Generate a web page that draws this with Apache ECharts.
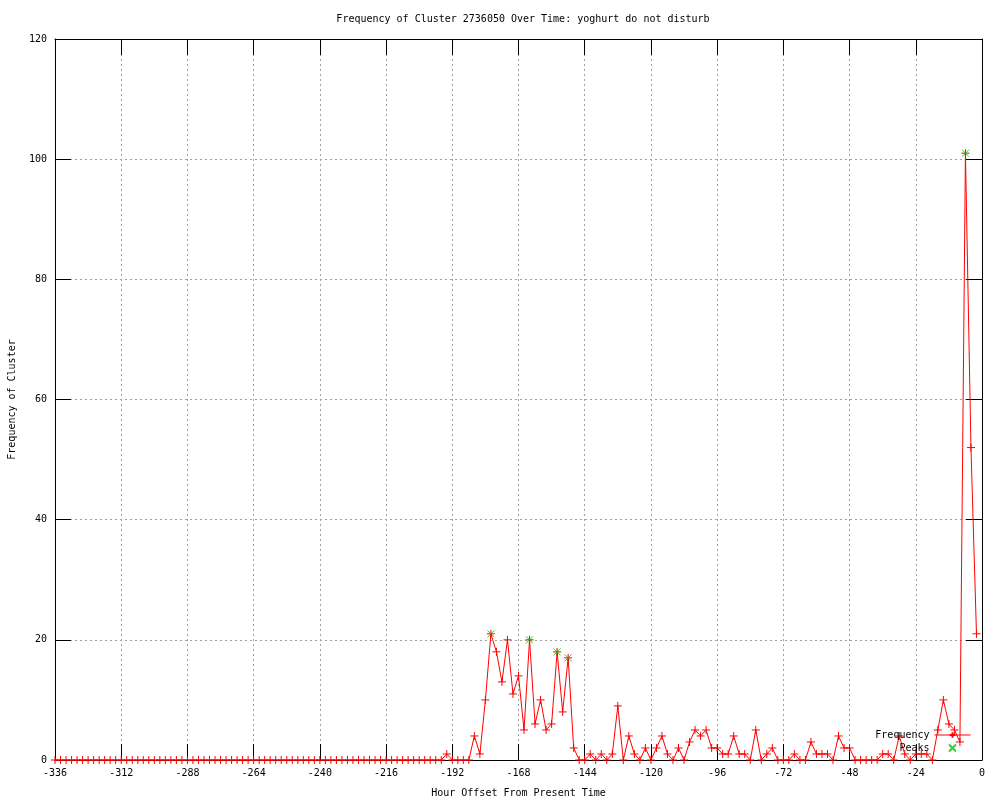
<!DOCTYPE html>
<html>
<head>
<meta charset="utf-8">
<script src="https://cdn.jsdelivr.net/npm/echarts@6/dist/echarts.min.js"></script>
<style>
html,body{margin:0;padding:0;background:#fff;}
#chart{width:1000px;height:800px;}
</style>
</head>
<body>
<div id="chart"></div>
<script>
// Hour offsets (every 2 hours)
const hours = [
-336,-334,-332,-330,-328,-326,-324,-322,-320,-318,-316,-314,-312,-310,-308,-306,-304,-302,-300,-298,
-296,-294,-292,-290,-288,-286,-284,-282,-280,-278,-276,-274,-272,-270,-268,-266,-264,-262,-260,-258,
-256,-254,-252,-250,-248,-246,-244,-242,-240,-238,-236,-234,-232,-230,-228,-226,-224,-222,-220,-218,
-216,-214,-212,-210,-208,-206,-204,-202,-200,-198,-196,-194,-192,-190,-188,-186,-184,-182,-180,-178,
-176,-174,-172,-170,-168,-166,-164,-162,-160,-158,-156,-154,-152,-150,-148,-146,-144,-142,-140,-138,
-136,-134,-132,-130,-128,-126,-124,-122,-120,-118,-116,-114,-112,-110,-108,-106,-104,-102,-100,-98,
-96,-94,-92,-90,-88,-86,-84,-82,-80,-78,-76,-74,-72,-70,-68,-66,-64,-62,-60,-58,
-56,-54,-52,-50,-48,-46,-44,-42,-40,-38,-36,-34,-32,-30,-28,-26,-24,-22,-20,-18,
-16,-14,-12,-10,-8,-6,-4,-2
];
// Frequency values
const frequency = [
0,0,0,0,0,0,0,0,0,0,0,0,0,0,0,0,0,0,0,0,
0,0,0,0,0,0,0,0,0,0,0,0,0,0,0,0,0,0,0,0,
0,0,0,0,0,0,0,0,0,0,0,0,0,0,0,0,0,0,0,0,
0,0,0,0,0,0,0,0,0,0,0,1,0,0,0,0,4,1,10,21,
18,13,20,11,14,5,20,6,10,5,6,18,8,17,2,0,0,1,0,1,
0,1,9,0,4,1,0,2,0,2,4,1,0,2,0,3,5,4,5,2,
2,1,1,4,1,1,0,5,0,1,2,0,0,0,1,0,0,3,1,1,
1,0,4,2,2,0,0,0,0,0,1,1,0,4,1,0,1,1,1,0,
5,10,6,5,3,101,52,21
];
// Peaks
const peakHours = [-178,-164,-154,-150,-6];
const peakValues = [21,20,18,17,101];

const xTicks = {min:-336, max:0, interval:24};
const yTicks = {min:0, max:120, interval:20};

const FONT = 'DejaVu Sans Mono';
const plus = 'path://M0,5L10,5M5,0L5,10';
const cross = 'path://M0,0L10,10M10,0L0,10';

const chart = echarts.init(document.getElementById('chart'), null, {renderer:'canvas'});
const tickStyle = {show:true, inside:true, length:16, lineStyle:{color:'#000', width:1}};
const gridLine = {show:true, lineStyle:{color:'#a0a0a0', type:[2,3], width:1}};
chart.setOption({
  animation:false,
  backgroundColor:'#fff',
  title:{
    text:'Frequency of Cluster 2736050 Over Time: yoghurt do not disturb',
    left:518, top:9, textAlign:'center',
    textStyle:{fontFamily:FONT, fontSize:10, fontWeight:'normal', color:'#000'}
  },
  legend:{
    orient:'vertical', right:24, top:724, align:'right',
    itemWidth:36, itemHeight:7, itemGap:1,
    textStyle:{fontFamily:FONT, fontSize:10, color:'#000', lineHeight:12},
    lineStyle:{width:1},
    data:[{name:'Frequency'},{name:'Peaks', icon:cross}]
  },
  grid:{left:55, right:18, top:39, bottom:40, containLabel:false, outerBoundsMode:'none'},
  xAxis:[{
    type:'value', min:xTicks.min, max:xTicks.max, interval:xTicks.interval,
    name:'Hour Offset From Present Time', nameLocation:'middle', nameGap:28,
    nameTextStyle:{fontFamily:FONT, fontSize:10, color:'#000'},
    axisLine:{show:true, onZero:false, lineStyle:{color:'#000', width:1}},
    axisTick:tickStyle,
    axisLabel:{fontFamily:FONT, fontSize:10, color:'#000', margin:8},
    splitLine:gridLine
  },{
    type:'value', position:'top', min:xTicks.min, max:xTicks.max, interval:xTicks.interval,
    axisLine:{show:true, onZero:false, lineStyle:{color:'#000', width:1}},
    axisTick:tickStyle, axisLabel:{show:false}, splitLine:{show:false}
  }],
  yAxis:[{
    type:'value', min:yTicks.min, max:yTicks.max, interval:yTicks.interval,
    name:'Frequency of Cluster', nameLocation:'middle', nameGap:38, nameRotate:90,
    nameTextStyle:{fontFamily:FONT, fontSize:10, color:'#000'},
    axisLine:{show:true, onZero:false, lineStyle:{color:'#000', width:1}},
    axisTick:tickStyle,
    axisLabel:{fontFamily:FONT, fontSize:10, color:'#000', margin:8},
    splitLine:gridLine
  },{
    type:'value', position:'right', min:yTicks.min, max:yTicks.max, interval:yTicks.interval,
    axisLine:{show:true, onZero:false, lineStyle:{color:'#000', width:1}},
    axisTick:tickStyle, axisLabel:{show:false}, splitLine:{show:false}
  }],
  series:[{
    name:'Frequency', type:'line',
    data:hours.map((h,i)=>[h, frequency[i]]),
    symbol:plus, symbolSize:8, showSymbol:true, clip:false,
    lineStyle:{color:'#ff0000', width:1},
    itemStyle:{color:'#ff0000', borderColor:'#ff0000', borderWidth:1},
    z:3
  },{
    name:'Peaks', type:'scatter',
    data:peakHours.map((h,i)=>[h, peakValues[i]]),
    symbol:cross, symbolSize:7,
    itemStyle:{color:'#00c000', borderColor:'#00c000', borderWidth:1},
    z:4
  }]
});
</script>
</body>
</html>
